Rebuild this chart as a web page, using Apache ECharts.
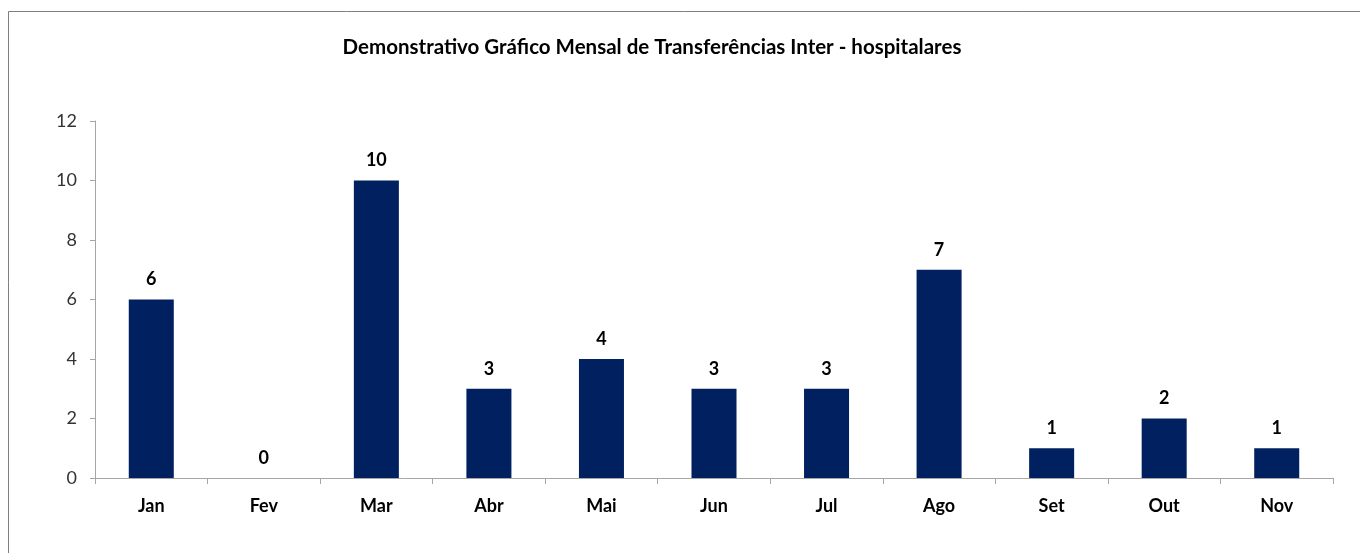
<!DOCTYPE html>
<html>
<head>
<meta charset="utf-8">
<script src="https://cdn.jsdelivr.net/npm/echarts@6/dist/echarts.min.js"></script>
<style>html,body{margin:0;padding:0;background:#fff;}#c{width:1360px;height:553px;}</style>
</head>
<body>
<div id="c"></div>
<script>
const titleText = 'Demonstrativo Gráfico Mensal de Transferências Inter - hospitalares';
const categories = ['Jan','Fev','Mar','Abr','Mai','Jun','Jul','Ago','Set','Out','Nov'];
const values = [6,0,10,3,4,3,3,7,1,2,1];
const yTicks = [0,2,4,6,8,10,12];

const chart = echarts.init(document.getElementById('c'), null, {renderer:'canvas'});
const font = 'Lato, "Open Sans", sans-serif';
chart.setOption({
  backgroundColor:'#fff',
  animation:false,
  graphic:[{type:'rect', shape:{x:8.5,y:11.5,width:1400,height:600}, style:{fill:'none', stroke:'#7f7f7f', lineWidth:1}, silent:true}],
  title:{text:titleText, left:647, top:32, textAlign:'center',
    textStyle:{fontFamily:font, fontWeight:'bold', fontSize:20.5, color:'#000'}},
  grid:{left:95, right:27, top:121, bottom:75},
  xAxis:{type:'category', data:categories,
    axisLine:{lineStyle:{color:'#a6a6a6'}},
    axisTick:{show:true, length:6, lineStyle:{color:'#a6a6a6'}},
    axisLabel:{fontFamily:font, fontWeight:'bold', fontSize:18, color:'#000', margin:19}},
  yAxis:{type:'value', min:0, max:12, interval:2,
    axisLine:{show:true, lineStyle:{color:'#a6a6a6'}},
    axisTick:{show:true, length:5, lineStyle:{color:'#a6a6a6'}},
    splitLine:{show:false},
    axisLabel:{fontFamily:font, fontSize:18, color:'#333', margin:18,
      formatter:v=> yTicks.includes(v)? String(v):''}},
  series:[{type:'bar', data:values, barWidth:'40%',
    itemStyle:{color:'#002060'},
    label:{show:true, position:'top', distance:11, fontFamily:font, fontWeight:'bold', fontSize:18, color:'#000'}}]
});
</script>
</body>
</html>
